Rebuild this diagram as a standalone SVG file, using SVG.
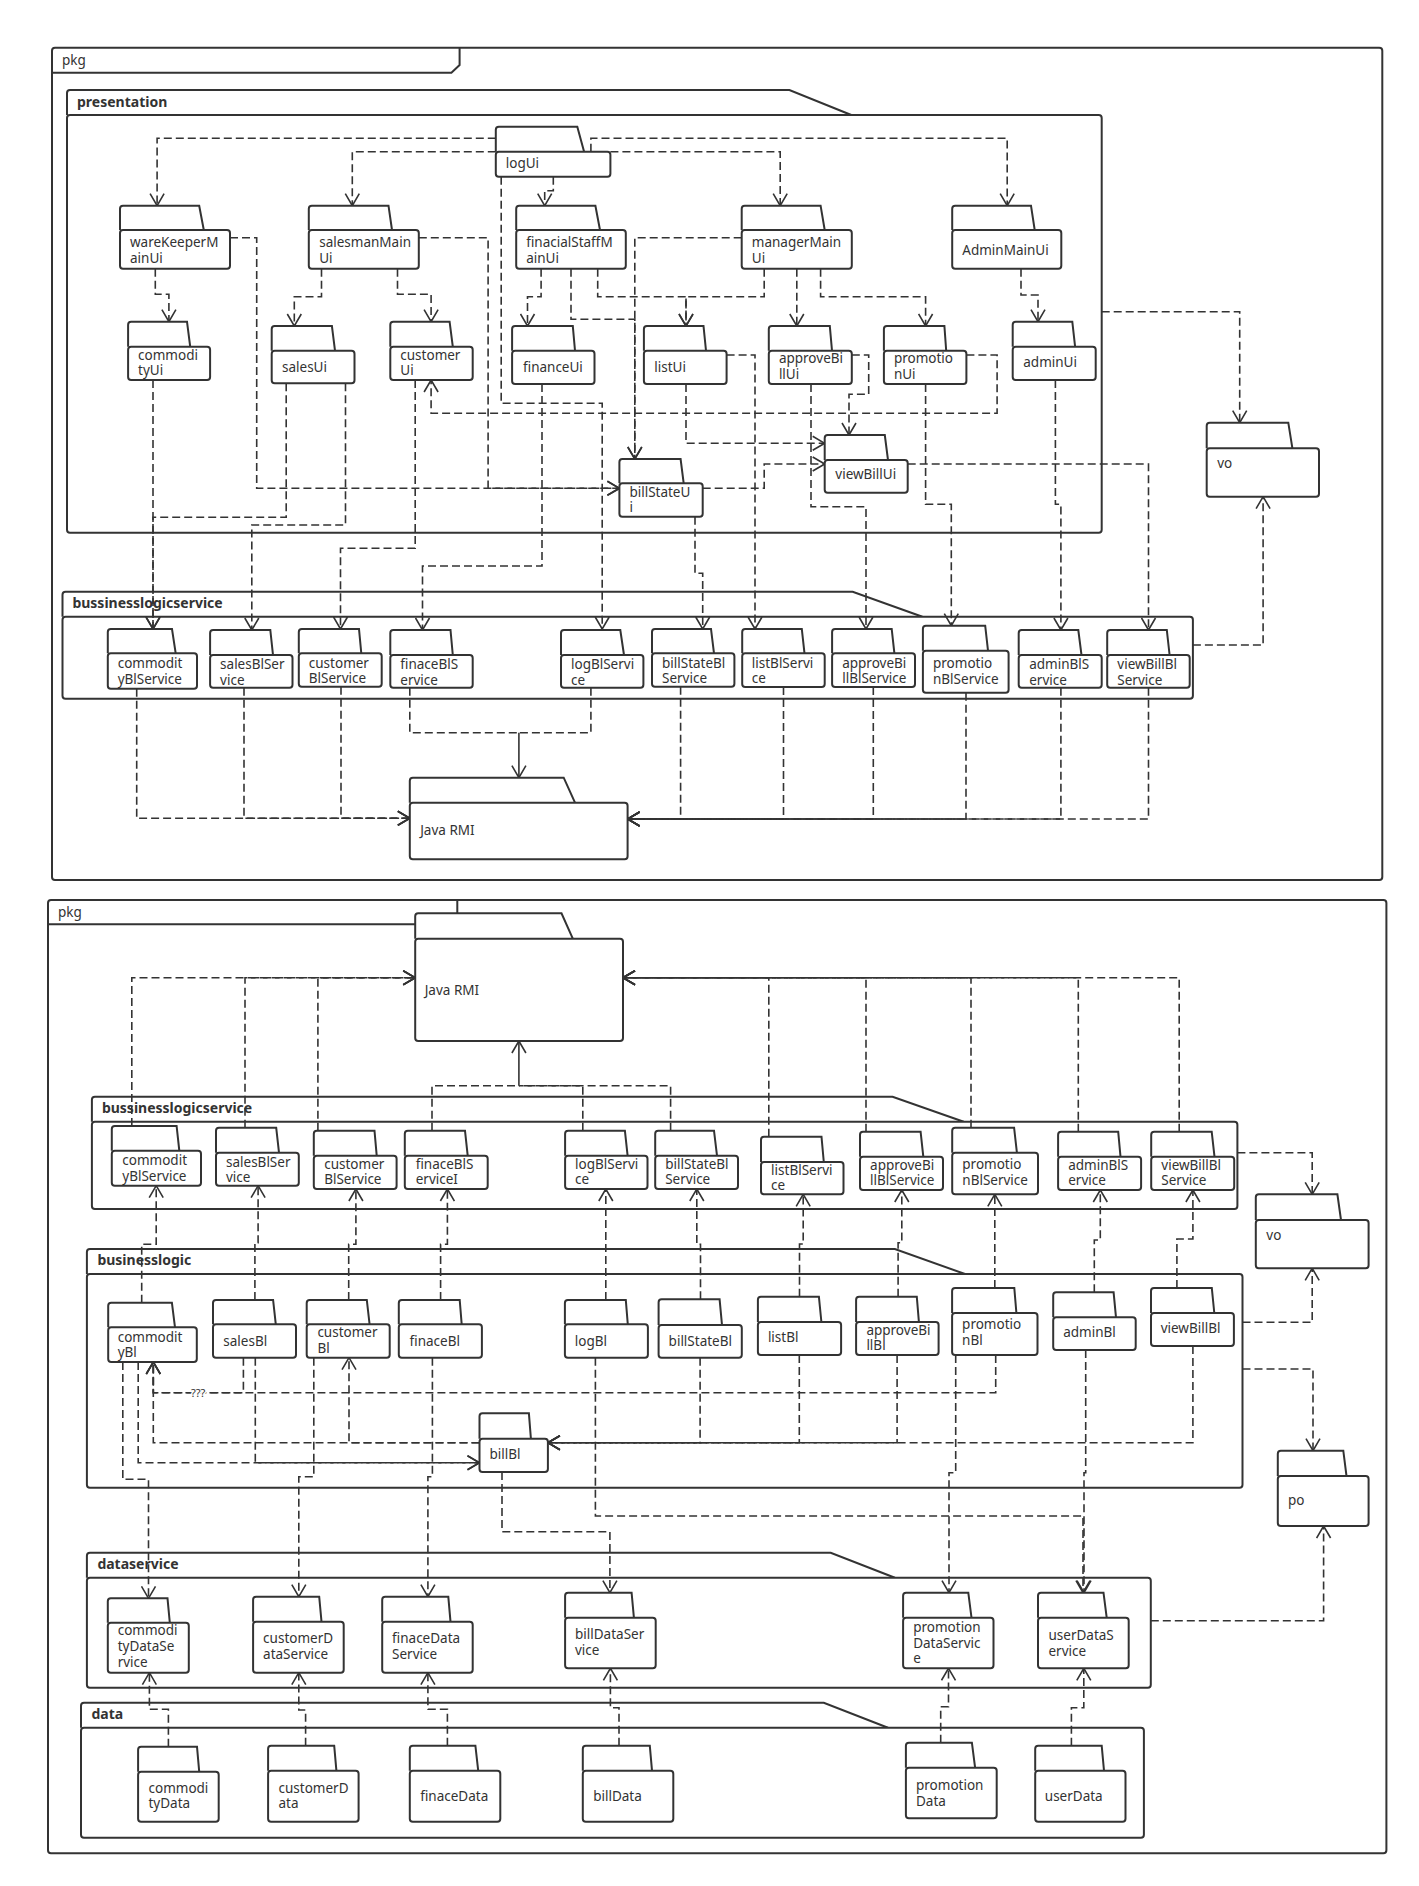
<svg xmlns="http://www.w3.org/2000/svg" width="1419" height="1886" viewBox="0 0 1419 1886">
<defs>
<marker id="ah" viewBox="0 0 14 16" refX="13" refY="8" markerWidth="14" markerHeight="16" orient="auto" markerUnits="userSpaceOnUse"><path d="M1,1 L13,8 L1,15" fill="none" stroke="#333" stroke-width="1.6"/></marker>
<style>
.fr{fill:none;stroke:#333;stroke-width:2}
.pk path,.pk rect{fill:#fff;stroke:#333;stroke-width:2}
.n path,.n rect{fill:#fff;stroke:#333;stroke-width:2}
.c{fill:none;stroke:#333;stroke-width:1.6;stroke-dasharray:8 4;marker-end:url(#ah)}
.s{stroke-dasharray:none}
.cn{fill:none;stroke:#333;stroke-width:1.6;stroke-dasharray:8 4}
text{font-family:"Noto Sans","DejaVu Sans",sans-serif;font-size:13.5px;fill:#333}
.t{font-weight:bold;font-size:14px}
.q{font-size:11px;paint-order:stroke;stroke:#fff;stroke-width:3}
</style>
</defs>
<rect width="1419" height="1886" fill="#fff"/>

<g id="frames">
<g id="pkg-top" class="pk">
<rect x="52" y="47.7" width="1330.3" height="832.3" rx="3"/>
<path d="M52,72.7H451.4L459.6,65V47.7" style="fill:none"/>
<text x="62" y="65">pkg</text>
</g>
<g id="presentation" class="pk">
<path d="M67,115V93Q67,90 70,90H789.4L851.3,115"/>
<rect x="67" y="115" width="1034.7" height="417.7" rx="3"/>
<text class="t" x="77" y="107">presentation</text>
</g>
<g id="bls-top" class="pk">
<path d="M62.5,616.7V594.7Q62.5,591.7 65.5,591.7H852.7L922.4,616.7"/>
<rect x="62.5" y="616.7" width="1130.4" height="82" rx="3"/>
<text class="t" x="72.4" y="608.3">bussinesslogicservice</text>
</g>
<g id="pkg-bottom" class="pk">
<rect x="48" y="900" width="1338.4" height="953.3" rx="3"/>
<path d="M48,924.3H449L457.3,916.6V900" style="fill:none"/>
<text x="58" y="916.7">pkg</text>
</g>
<g id="bls-bottom" class="pk">
<path d="M91.9,1121.7V1099.7Q91.9,1096.7 94.9,1096.7H892.6L963.7,1121.7"/>
<rect x="91.9" y="1121.7" width="1145.5" height="87.3" rx="3"/>
<text class="t" x="101.9" y="1113.3">bussinesslogicservice</text>
</g>
<g id="businesslogic" class="pk">
<path d="M86.9,1274V1252Q86.9,1249 89.9,1249H894.9L965,1274"/>
<rect x="86.9" y="1274" width="1155.6" height="213.7" rx="3"/>
<text class="t" x="97.4" y="1265">businesslogic</text>
</g>
<g id="dataservice" class="pk">
<path d="M86.9,1577.7V1555.7Q86.9,1552.7 89.9,1552.7H830.7L894.9,1577.7"/>
<rect x="86.9" y="1577.7" width="1063.9" height="110" rx="3"/>
<text class="t" x="97.4" y="1569.3">dataservice</text>
</g>
<g id="data" class="pk">
<path d="M81,1727.7V1705.7Q81,1702.7 84,1702.7H823.8L888,1727.7"/>
<rect x="81" y="1727.7" width="1062.9" height="110" rx="3"/>
<text class="t" x="91.5" y="1719.3">data</text>
</g>
</g>

<g id="connectors">
<path class="c" d="M495.8,138.3H157.1V205.7"/>
<path class="c" d="M495.8,151.7H352.3V205.7"/>
<path class="c" d="M553.3,176.7V190.7H544.7V205.7"/>
<path class="c" d="M610.4,151.7H780.2V205.7"/>
<path class="c" d="M590.9,151.7V138.3H1007.2V205.7"/>
<path class="c" d="M501.2,176.7V403.3H602.2V629"/>
<path class="c" d="M541.1,268.7V296.7H527.5V326"/>
<path class="c" d="M571,268.7V319.3H634.8V459"/>
<path class="c" d="M741.7,237.7H634.8V459"/>
<path class="c" d="M597.7,268.7V296.7H686V326"/>
<path class="c" d="M764.2,268.7V296.7H686V326"/>
<path class="c" d="M796.8,268.7V326"/>
<path class="c" d="M820.6,268.7V296.7H925.6V326"/>
<path class="c" d="M1021,268.7V295H1038V321.7"/>
<path class="c" d="M155.3,268.7V294.3H168.9V321.7"/>
<path class="c" d="M321.5,268.7V296.7H294.3V326"/>
<path class="c" d="M397.5,268.7V294.3H431.1V321.7"/>
<path class="c" d="M230,237.7H256.7V488.3H619.4"/>
<path class="c" d="M418.8,237.7H488.1V488.3H619.4"/>
<path class="c" d="M966.4,355H997.1V413.3H431.1V380"/>
<path class="c" d="M686,384V443.3H824.7"/>
<path class="c" d="M726.6,355H755V629"/>
<path class="c" d="M851.8,355H868.7V394.3H849V435"/>
<path class="c" d="M811,384V506.7H866V629"/>
<path class="c" d="M702.7,488.3H764.2V464H824.7"/>
<path class="c" d="M925.6,384V504.3H951.3V625.7"/>
<path class="c" d="M1055.4,380V504.3H1060.9V630"/>
<path class="c" d="M907.7,464H1148.5V630"/>
<path class="c" d="M1101.7,311.7H1239.7V422.7"/>
<path class="c" d="M1192.9,645H1263.1V496.7"/>
<path class="c" d="M153,380V629"/>
<path class="c" d="M286.2,383.3V517.3H153V629"/>
<path class="c" d="M345.5,383.3V525H251.8V630"/>
<path class="c" d="M415.2,380V548.3H340.5V629"/>
<path class="c" d="M542,384V566H422.5V630"/>
<path class="c" d="M695,516.7V573.3H702.7V629"/>
<path class="c" d="M136.7,688.7V818.3H409.8"/>
<path class="c" d="M244,687.7V818.3H409.8"/>
<path class="c" d="M341,686.7V818.3H409.8"/>
<path class="cn" d="M409.8,687.7V732.7H518.9"/>
<path class="cn" d="M590.9,687.7V732.7H518.9"/>
<path class="c s" d="M518.9,732.7V777.7"/>
<path class="c" d="M680.6,686.7V819H627.6"/>
<path class="c" d="M783.5,687V819H627.6"/>
<path class="c" d="M873.3,687V819H627.6"/>
<path class="c" d="M966,692.7V819H627.6"/>
<path class="c" d="M1060.9,687.7V819H627.6"/>
<path class="c" d="M1148.5,687.7V819H627.6"/>

<path class="c" d="M131.8,1126V977.7H415.2"/>
<path class="c" d="M245,1127.7V977.7H415.2"/>
<path class="c" d="M317.9,1130.7V977.7H415.2"/>
<path class="cn" d="M432,1130.7V1085.7H518.9"/>
<path class="cn" d="M582.8,1130.7V1085.7H518.9"/>
<path class="cn" d="M670.6,1130.7V1085.7H518.9"/>
<path class="c s" d="M518.9,1085.7V1041"/>
<path class="c" d="M768.8,1136.7V977.7H623"/>
<path class="c" d="M866,1131.7V977.7H623"/>
<path class="c" d="M971,1127.7V977.7H623"/>
<path class="c" d="M1078.3,1131.7V977.7H623"/>
<path class="c" d="M1179.2,1131.7V977.7H623"/>
<path class="c" d="M1237.4,1152.7H1312.2V1194.3"/>
<path class="c" d="M1242.5,1322.3H1312.2V1268.3"/>
<path class="c" d="M1242.5,1369H1313V1450.7"/>
<path class="c" d="M1150.8,1620.7H1323.6V1526"/>
<path class="c" d="M141.7,1302.7V1244.3H156.2V1185.7"/>
<path class="c" d="M254.9,1300V1242.7H258.1V1185.7"/>
<path class="c" d="M348.7,1300V1244.3H355.9V1189"/>
<path class="c" d="M440.6,1300V1244.3H447.4V1189"/>
<path class="c" d="M605.8,1300V1189"/>
<path class="c" d="M700.5,1299.3V1244.3H696.8V1189"/>
<path class="c" d="M799.5,1296.7V1244H803.2V1194.3"/>
<path class="c" d="M898.1,1296.7V1242.7H901.8V1190"/>
<path class="c" d="M994.8,1288V1194.3"/>
<path class="c" d="M1094.3,1292.3V1240H1100.3V1190"/>
<path class="c" d="M1176.9,1288V1239H1192.9V1190"/>
<path class="c" d="M995.7,1355V1392.7H153.3V1362"/>
<path class="c" d="M243.4,1357.7V1392.7H153.3V1362"/>
<path class="c" d="M479.5,1442.7H153.3V1362"/>
<path class="c" d="M479.5,1442.7H349V1357.7"/>
<path class="c" d="M1192.9,1346V1442.7H547.9"/>
<path class="c" d="M799.3,1355V1442.7H547.9"/>
<path class="c" d="M897.1,1355V1442.7H547.9"/>
<path class="c" d="M700.1,1357.7V1442.7H547.9"/>
<path class="c" d="M138.2,1362V1462.7H479.5"/>
<path class="c" d="M255.3,1357.7V1462.7H479.5"/>
<path class="c" d="M122.8,1362V1479.3H148.5V1598.3"/>
<path class="c" d="M313.8,1357.7V1476.7H298.8V1596.7"/>
<path class="c" d="M432.4,1357.7V1476.7H427.9V1596.7"/>
<path class="c" d="M502,1472V1531.7H609.9V1592.7"/>
<path class="c" d="M595.4,1357.7V1516H1083V1592.7"/>
<path class="c" d="M1085.7,1350V1472.7H1084V1592.7"/>
<path class="c" d="M955.7,1355V1472.7H949V1592.7"/>
<path class="c" d="M168.4,1746.7V1709.3H149.4V1672.7"/>
<path class="c" d="M305.6,1745.7V1710H298.8V1672.7"/>
<path class="c" d="M447.4,1745.7V1709.3H427.9V1672.7"/>
<path class="c" d="M619,1745.7V1707.7H610.4V1668.3"/>
<path class="c" d="M940.7,1742.7V1706.7H948.5V1668.3"/>
<path class="c" d="M1071.4,1745.7V1707.7H1083.8V1668.3"/>
<text class="q" x="191" y="1396.5">???</text>
</g>

<g id="n-logUi" class="n"><path d="M495.8,151.7V129.7Q495.8,126.7 498.8,126.7H577.3L584.1,151.7"/><rect x="495.8" y="151.7" width="114.6" height="25" rx="3"/><text x="505.8" y="168">logUi</text></g>
<g id="n-wareKeeperMainUi" class="n"><path d="M120,230V208.7Q120,205.7 123,205.7H199.2L203.8,230"/><rect x="120" y="230" width="110" height="38.7" rx="3"/><text x="130" y="247.3">wareKeeperM</text><text x="130" y="262.7">ainUi</text></g>
<g id="n-salesmanMainUi" class="n"><path d="M308.8,230V208.7Q308.8,205.7 311.8,205.7H388.5L392,230"/><rect x="308.8" y="230" width="110" height="38.7" rx="3"/><text x="319.2" y="247.3">salesmanMain</text><text x="319.2" y="262.7">Ui</text></g>
<g id="n-finacialStaffMainUi" class="n"><path d="M516.2,230V208.7Q516.2,205.7 519.2,205.7H595.4L600,230"/><rect x="516.2" y="230" width="109.6" height="38.7" rx="3"/><text x="526.2" y="247.3">finacialStaffM</text><text x="526.2" y="262.7">ainUi</text></g>
<g id="n-managerMainUi" class="n"><path d="M741.7,230V208.7Q741.7,205.7 744.7,205.7H820.6L824.7,230"/><rect x="741.7" y="230" width="110.1" height="38.7" rx="3"/><text x="751.8" y="247.3">managerMain</text><text x="751.8" y="262.7">Ui</text></g>
<g id="n-AdminMainUi" class="n"><path d="M952.2,230V208.7Q952.2,205.7 955.2,205.7H1031L1034.7,230"/><rect x="952.2" y="230" width="109.1" height="38.7" rx="3"/><text x="962.3" y="255">AdminMainUi</text></g>
<g id="n-commodityUi" class="n"><path d="M128.1,346.7V324.7Q128.1,321.7 131.1,321.7H187L190.2,346.7"/><rect x="128.1" y="346.7" width="82" height="33.3" rx="3"/><text x="138.1" y="360">commodi</text><text x="138.1" y="375">tyUi</text></g>
<g id="n-salesUi" class="n"><path d="M271.7,350.7V329Q271.7,326 274.7,326H331.9L335,350.7"/><rect x="271.7" y="350.7" width="82.8" height="32.6" rx="3"/><text x="282" y="371.7">salesUi</text></g>
<g id="n-customerUi" class="n"><path d="M390.3,346.7V324.7Q390.3,321.7 393.3,321.7H449.6L452.8,346.7"/><rect x="390.3" y="346.7" width="82.4" height="33.3" rx="3"/><text x="400.3" y="360">customer</text><text x="400.3" y="375">Ui</text></g>
<g id="n-financeUi" class="n"><path d="M512.1,350.7V329Q512.1,326 515.1,326H572.8L575,350.7"/><rect x="512.1" y="350.7" width="82.4" height="33.3" rx="3"/><text x="523" y="371.7">financeUi</text></g>
<g id="n-listUi" class="n"><path d="M643.9,350.7V329Q643.9,326 646.9,326H703.5L706,350.7"/><rect x="643.9" y="350.7" width="82.7" height="33.3" rx="3"/><text x="654.3" y="371.7">listUi</text></g>
<g id="n-approveBillUi" class="n"><path d="M768.8,350.7V329Q768.8,326 771.8,326H829.8L832,350.7"/><rect x="768.8" y="350.7" width="83" height="33.3" rx="3"/><text x="778.9" y="363.3">approveBi</text><text x="778.9" y="379">llUi</text></g>
<g id="n-promotionUi" class="n"><path d="M883.9,350.7V329Q883.9,326 886.9,326H944.4L946.2,350.7"/><rect x="883.9" y="350.7" width="82.5" height="33.3" rx="3"/><text x="893.9" y="363.3">promotio</text><text x="893.9" y="379">nUi</text></g>
<g id="n-adminUi" class="n"><path d="M1012.7,346.7V324.7Q1012.7,321.7 1015.7,321.7H1072.3L1075.1,346.7"/><rect x="1012.7" y="346.7" width="83" height="33.3" rx="3"/><text x="1023.3" y="366.7">adminUi</text></g>
<g id="n-viewBillUi" class="n"><path d="M824.7,460V438Q824.7,435 827.7,435H884.8L888,460"/><rect x="824.7" y="460" width="83" height="32.7" rx="3"/><text x="835.3" y="479.3">viewBillUi</text></g>
<g id="n-billStateUi" class="n"><path d="M619.4,483.3V462Q619.4,459 622.4,459H680.6L683.7,483.3"/><rect x="619.4" y="483.3" width="83.3" height="33.4" rx="3"/><text x="629.4" y="496.7">billStateU</text><text x="629.4" y="511.7">i</text></g>
<g id="n-vo-top" class="n"><path d="M1206.7,448.3V425.7Q1206.7,422.7 1209.7,422.7H1288.3L1292.4,448.3"/><rect x="1206.7" y="448.3" width="112.3" height="48.4" rx="3"/><text x="1217.2" y="468">vo</text></g>

<g id="n-commodityBlService-top" class="n"><path d="M107.8,653.3V632Q107.8,629 110.8,629H172L175.7,653.3"/><rect x="107.8" y="653.3" width="89.2" height="35.4" rx="3"/><text x="117.7" y="668">commodit</text><text x="117.7" y="684">yBlService</text></g>
<g id="n-salesBlService-top" class="n"><path d="M210.1,655V633Q210.1,630 213.1,630H270.3L273,655"/><rect x="210.1" y="655" width="82.4" height="32.7" rx="3"/><text x="220.1" y="669.3">salesBlSer</text><text x="220.1" y="685">vice</text></g>
<g id="n-customerBlService-top" class="n"><path d="M298.8,653.3V632Q298.8,629 301.8,629H359L361.3,653.3"/><rect x="298.8" y="653.3" width="82.9" height="33.4" rx="3"/><text x="308.8" y="667.7">customer</text><text x="308.8" y="683.3">BlService</text></g>
<g id="n-finaceBlService-top" class="n"><path d="M390.3,655V633Q390.3,630 393.3,630H450.5L452.8,655"/><rect x="390.3" y="655" width="82.4" height="32.7" rx="3"/><text x="400.3" y="669.3">finaceBlS</text><text x="400.3" y="685">ervice</text></g>
<g id="n-logBlService-top" class="n"><path d="M561,655V633Q561,630 564,630H620.3L624,655"/><rect x="561" y="655" width="82.4" height="32.7" rx="3"/><text x="571" y="669.3">logBlServi</text><text x="571" y="685">ce</text></g>
<g id="n-billStateBlService-top" class="n"><path d="M652,653.3V632Q652,629 655,629H711L714,653.3"/><rect x="652" y="653.3" width="82.4" height="33.4" rx="3"/><text x="662" y="667.7">billStateBl</text><text x="662" y="683.3">Service</text></g>
<g id="n-listBlService-top" class="n"><path d="M742.2,653.3V632Q742.2,629 745.2,629H801.8L804.5,653.3"/><rect x="742.2" y="653.3" width="82.5" height="33.7" rx="3"/><text x="751.8" y="667.7">listBlServi</text><text x="751.8" y="683.3">ce</text></g>
<g id="n-approveBillBlService-top" class="n"><path d="M832.1,653.3V632Q832.1,629 835.1,629H891.7L894.4,653.3"/><rect x="832.1" y="653.3" width="82.9" height="33.7" rx="3"/><text x="842.2" y="667.7">approveBi</text><text x="842.2" y="683.3">llBlService</text></g>
<g id="n-promotionBlService-top" class="n"><path d="M922.9,650.7V628.7Q922.9,625.7 925.9,625.7H985.2L988,650.7"/><rect x="922.9" y="650.7" width="85.7" height="42" rx="3"/><text x="933" y="668">promotio</text><text x="933" y="684">nBlService</text></g>
<g id="n-adminBlService-top" class="n"><path d="M1018.7,655V633Q1018.7,630 1021.7,630H1078.3L1081.5,655"/><rect x="1018.7" y="655" width="83" height="32.7" rx="3"/><text x="1029.2" y="669.3">adminBlS</text><text x="1029.2" y="685">ervice</text></g>
<g id="n-viewBillBlService-top" class="n"><path d="M1107.2,655V633Q1107.2,630 1110.2,630H1166.8L1169.6,655"/><rect x="1107.2" y="655" width="82.5" height="32.7" rx="3"/><text x="1117.3" y="669.3">viewBillBl</text><text x="1117.3" y="685">Service</text></g>
<g id="n-JavaRMI-top" class="n"><path d="M409.8,802.7V780.7Q409.8,777.7 412.8,777.7H563.7L575,802.7"/><rect x="409.8" y="802.7" width="217.8" height="56.6" rx="3"/><text x="420.2" y="835">Java RMI</text></g>

<g id="n-JavaRMI-bottom" class="n"><path d="M415.2,938.7V916.3Q415.2,913.3 418.2,913.3H561.5L572.8,938.7"/><rect x="415.2" y="938.7" width="207.8" height="102.3" rx="3"/><text x="424.7" y="995">Java RMI</text></g>
<g id="n-commodityBlService" class="n"><path d="M111.8,1150.7V1129Q111.8,1126 114.8,1126H176.6L179.3,1150.7"/><rect x="111.8" y="1150.7" width="89.2" height="35" rx="3"/><text x="122.3" y="1165">commodit</text><text x="122.3" y="1180.7">yBlService</text></g>
<g id="n-salesBlService" class="n"><path d="M216,1152.7V1130.7Q216,1127.7 219,1127.7H276.2L279,1152.7"/><rect x="216" y="1152.7" width="82.8" height="33" rx="3"/><text x="226" y="1166.7">salesBlSer</text><text x="226" y="1182.3">vice</text></g>
<g id="n-customerBlService" class="n"><path d="M313.8,1155.7V1133.7Q313.8,1130.7 316.8,1130.7H374.5L376.7,1155.7"/><rect x="313.8" y="1155.7" width="82.8" height="33.3" rx="3"/><text x="324.2" y="1168.7">customer</text><text x="324.2" y="1184.3">BlService</text></g>
<g id="n-finaceBlServiceI" class="n"><path d="M404.8,1155.7V1133.7Q404.8,1130.7 407.8,1130.7H465L467.7,1155.7"/><rect x="404.8" y="1155.7" width="82.9" height="33.3" rx="3"/><text x="415.7" y="1168.7">finaceBlS</text><text x="415.7" y="1184.3">erviceI</text></g>
<g id="n-logBlService" class="n"><path d="M565.1,1155.7V1133.7Q565.1,1130.7 568.1,1130.7H624.9L627.6,1155.7"/><rect x="565.1" y="1155.7" width="82.4" height="33.3" rx="3"/><text x="575.1" y="1168.7">logBlServi</text><text x="575.1" y="1184.3">ce</text></g>
<g id="n-billStateBlService" class="n"><path d="M655.2,1155.7V1133.7Q655.2,1130.7 658.2,1130.7H714L717,1155.7"/><rect x="655.2" y="1155.7" width="82.8" height="33.3" rx="3"/><text x="665.2" y="1168.7">billStateBl</text><text x="665.2" y="1184.3">Service</text></g>
<g id="n-listBlService" class="n"><path d="M761,1162V1139.7Q761,1136.7 764,1136.7H821.5L823.8,1162"/><rect x="761" y="1162" width="82.5" height="32.3" rx="3"/><text x="771.1" y="1175">listBlServi</text><text x="771.1" y="1190">ce</text></g>
<g id="n-approveBillBlService" class="n"><path d="M860,1156.7V1134.7Q860,1131.7 863,1131.7H920.6L923.3,1156.7"/><rect x="860" y="1156.7" width="83" height="33.3" rx="3"/><text x="870.1" y="1169.7">approveBi</text><text x="870.1" y="1185.3">llBlService</text></g>
<g id="n-promotionBlService" class="n"><path d="M952.2,1152.7V1130.7Q952.2,1127.7 955.2,1127.7H1014.1L1016.9,1152.7"/><rect x="952.2" y="1152.7" width="85.8" height="41.6" rx="3"/><text x="962.3" y="1169.3">promotio</text><text x="962.3" y="1185">nBlService</text></g>
<g id="n-adminBlService" class="n"><path d="M1058.1,1156.7V1134.7Q1058.1,1131.7 1061.1,1131.7H1118.2L1120.5,1156.7"/><rect x="1058.1" y="1156.7" width="83" height="33.3" rx="3"/><text x="1068.2" y="1169.7">adminBlS</text><text x="1068.2" y="1185.3">ervice</text></g>
<g id="n-viewBillBlService" class="n"><path d="M1151.2,1156.7V1134.7Q1151.2,1131.7 1154.2,1131.7H1211.7L1214.5,1156.7"/><rect x="1151.2" y="1156.7" width="83" height="33.3" rx="3"/><text x="1161.3" y="1169.7">viewBillBl</text><text x="1161.3" y="1185.3">Service</text></g>
<g id="n-vo-bottom" class="n"><path d="M1255.8,1220V1197.3Q1255.8,1194.3 1258.8,1194.3H1337.4L1341,1220"/><rect x="1255.8" y="1220" width="112.8" height="48.3" rx="3"/><text x="1266.3" y="1240">vo</text></g>

<g id="n-commodityBl" class="n"><path d="M108.2,1327.3V1305.7Q108.2,1302.7 111.2,1302.7H171.9L175,1327.3"/><rect x="108.2" y="1327.3" width="88.6" height="34.7" rx="3"/><text x="117.7" y="1341.7">commodit</text><text x="117.7" y="1357.3">yBl</text></g>
<g id="n-salesBl" class="n"><path d="M213,1324.3V1303Q213,1300 216,1300H273.1L275.8,1324.3"/><rect x="213" y="1324.3" width="83" height="33.4" rx="3"/><text x="223.3" y="1346">salesBl</text></g>
<g id="n-customerBl" class="n"><path d="M306.7,1324.3V1303Q306.7,1300 309.7,1300H366.8L369.6,1324.3"/><rect x="306.7" y="1324.3" width="83" height="33.4" rx="3"/><text x="317.4" y="1337.3">customer</text><text x="317.4" y="1353.3">Bl</text></g>
<g id="n-finaceBl" class="n"><path d="M398.8,1324.3V1303Q398.8,1300 401.8,1300H459.7L461.7,1324.3"/><rect x="398.8" y="1324.3" width="83.1" height="33.4" rx="3"/><text x="409.5" y="1346">finaceBl</text></g>
<g id="n-logBl" class="n"><path d="M564.9,1324.3V1303Q564.9,1300 567.9,1300H625.8L627.8,1324.3"/><rect x="564.9" y="1324.3" width="83" height="33.4" rx="3"/><text x="574.8" y="1346">logBl</text></g>
<g id="n-billStateBl" class="n"><path d="M658.6,1325V1302.3Q658.6,1299.3 661.6,1299.3H719.6L722,1325"/><rect x="658.6" y="1325" width="83.2" height="32.7" rx="3"/><text x="668.6" y="1346">billStateBl</text></g>
<g id="n-listBl" class="n"><path d="M757.9,1322V1299.7Q757.9,1296.7 760.9,1296.7H818.9L821.4,1322"/><rect x="757.9" y="1322" width="83.2" height="33" rx="3"/><text x="767.9" y="1341.7">listBl</text></g>
<g id="n-approveBillBl" class="n"><path d="M856.1,1322V1299.7Q856.1,1296.7 859.1,1296.7H916.8L918.9,1322"/><rect x="856.1" y="1322" width="82.5" height="33" rx="3"/><text x="866.4" y="1335">approveBi</text><text x="866.4" y="1350">llBl</text></g>
<g id="n-promotionBl" class="n"><path d="M952.1,1313V1291Q952.1,1288 955.1,1288H1014.3L1016.4,1313"/><rect x="952.1" y="1313" width="85.4" height="42" rx="3"/><text x="962.1" y="1329.3">promotio</text><text x="962.1" y="1345">nBl</text></g>
<g id="n-adminBl" class="n"><path d="M1053.2,1317.3V1295.3Q1053.2,1292.3 1056.2,1292.3H1113.6L1116,1317.3"/><rect x="1053.2" y="1317.3" width="82.5" height="32.7" rx="3"/><text x="1063.2" y="1337.3">adminBl</text></g>
<g id="n-viewBillBl" class="n"><path d="M1151,1313V1291Q1151,1288 1154,1288H1211.8L1214.3,1313"/><rect x="1151" y="1313" width="82.9" height="33" rx="3"/><text x="1160.7" y="1333.3">viewBillBl</text></g>
<g id="n-billBl" class="n"><path d="M479.5,1438.7V1416.3Q479.5,1413.3 482.5,1413.3H528.9L530.9,1438.7"/><rect x="479.5" y="1438.7" width="68.4" height="33.3" rx="3"/><text x="489.4" y="1459.3">billBl</text></g>
<g id="n-po" class="n"><path d="M1277.8,1476V1453.7Q1277.8,1450.7 1280.8,1450.7H1343.3L1346.5,1476"/><rect x="1277.8" y="1476" width="90.8" height="50" rx="3"/><text x="1287.9" y="1505">po</text></g>

<g id="n-commodityDataService" class="n"><path d="M107.8,1622.7V1601.3Q107.8,1598.3 110.8,1598.3H167.5L169.8,1622.7"/><rect x="107.8" y="1622.7" width="81" height="50" rx="3"/><text x="117.7" y="1635">commodi</text><text x="117.7" y="1650.7">tyDataSe</text><text x="117.7" y="1666.7">rvice</text></g>
<g id="n-customerDataService" class="n"><path d="M253.1,1621.7V1599.7Q253.1,1596.7 256.1,1596.7H319.2L321.5,1621.7"/><rect x="253.1" y="1621.7" width="90.6" height="51" rx="3"/><text x="263.1" y="1643.3">customerD</text><text x="263.1" y="1659.3">ataService</text></g>
<g id="n-finaceDataService" class="n"><path d="M382.2,1621.7V1599.7Q382.2,1596.7 385.2,1596.7H448.3L450.5,1621.7"/><rect x="382.2" y="1621.7" width="90.5" height="51" rx="3"/><text x="392.1" y="1643.3">finaceData</text><text x="392.1" y="1659.3">Service</text></g>
<g id="n-billDataService" class="n"><path d="M565.1,1617.7V1595.7Q565.1,1592.7 568.1,1592.7H631.6L633.9,1617.7"/><rect x="565.1" y="1617.7" width="90.6" height="50.6" rx="3"/><text x="575" y="1639.3">billDataSer</text><text x="575" y="1655.3">vice</text></g>
<g id="n-promotionDataService" class="n"><path d="M903.1,1617.7V1595.7Q903.1,1592.7 906.1,1592.7H968.3L971.5,1617.7"/><rect x="903.1" y="1617.7" width="90.4" height="50.6" rx="3"/><text x="913.2" y="1631.7">promotion</text><text x="913.2" y="1647.7">DataServic</text><text x="913.2" y="1663.3">e</text></g>
<g id="n-userDataService" class="n"><path d="M1038,1617.7V1595.7Q1038,1592.7 1041,1592.7H1103.5L1106.7,1617.7"/><rect x="1038" y="1617.7" width="90.7" height="50.6" rx="3"/><text x="1048.5" y="1640">userDataS</text><text x="1048.5" y="1656">ervice</text></g>

<g id="n-commodityData" class="n"><path d="M138.1,1771.7V1749.7Q138.1,1746.7 141.1,1746.7H197L199.2,1771.7"/><rect x="138.1" y="1771.7" width="80.6" height="50" rx="3"/><text x="148.5" y="1792.7">commodi</text><text x="148.5" y="1808.3">tyData</text></g>
<g id="n-customerData" class="n"><path d="M268.1,1770.7V1748.7Q268.1,1745.7 271.1,1745.7H334.2L336.4,1770.7"/><rect x="268.1" y="1770.7" width="90.5" height="51" rx="3"/><text x="278.5" y="1792.7">customerD</text><text x="278.5" y="1808.3">ata</text></g>
<g id="n-finaceData" class="n"><path d="M409.8,1770.7V1748.7Q409.8,1745.7 412.8,1745.7H475.4L478.2,1770.7"/><rect x="409.8" y="1770.7" width="90.5" height="51" rx="3"/><text x="420.2" y="1800.7">finaceData</text></g>
<g id="n-billData" class="n"><path d="M582.8,1770.7V1748.7Q582.8,1745.7 585.8,1745.7H649.8L652,1770.7"/><rect x="582.8" y="1770.7" width="90.5" height="51" rx="3"/><text x="593.2" y="1800.7">billData</text></g>
<g id="n-promotionData" class="n"><path d="M905.9,1767.7V1745.7Q905.9,1742.7 908.9,1742.7H971.9L975.1,1767.7"/><rect x="905.9" y="1767.7" width="90.8" height="50.6" rx="3"/><text x="916" y="1790">promotion</text><text x="916" y="1805.7">Data</text></g>
<g id="n-userData" class="n"><path d="M1035.2,1770.7V1748.7Q1035.2,1745.7 1038.2,1745.7H1101.7L1104,1770.7"/><rect x="1035.2" y="1770.7" width="90.3" height="51" rx="3"/><text x="1044.8" y="1800.7">userData</text></g>
</svg>
